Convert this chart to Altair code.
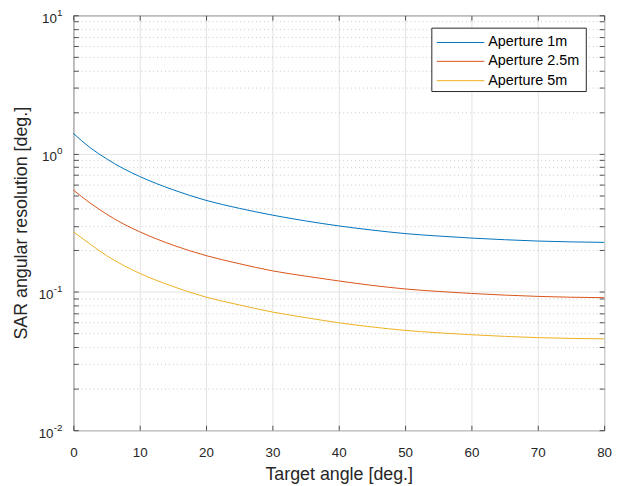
import altair as alt
import pandas as pd

# ---- data ----
angles = [0, 2.5, 5, 7.5, 10, 15, 20, 25, 30, 35, 40, 45, 50, 55, 60, 65, 70, 75, 80]
res_1m = [1.40, 1.106, 0.917, 0.781, 0.683, 0.548, 0.459, 0.402, 0.359, 0.326, 0.300,
          0.280, 0.264, 0.2535, 0.245, 0.2384, 0.2331, 0.2299, 0.228]
res_2_5m = [0.545, 0.440, 0.365, 0.311, 0.272, 0.218, 0.183, 0.160, 0.142, 0.130, 0.120,
            0.1115, 0.105, 0.1008, 0.0974, 0.0948, 0.0928, 0.0915, 0.0908]
res_5m = [0.272, 0.222, 0.183, 0.156, 0.1362, 0.1095, 0.0917, 0.0805, 0.0715, 0.0652, 0.0598,
          0.0558, 0.0527, 0.0506, 0.0490, 0.0477, 0.0467, 0.0461, 0.0458]
series_names = ["Aperture 1m", "Aperture 2.5m", "Aperture 5m"]
series_colors = ["#0072BD", "#D95319", "#EDB120"]

x_ticks = [0, 10, 20, 30, 40, 50, 60, 70, 80]
y_major = [0.01, 0.1, 1, 10]
y_exponents = ["-2", "-1", "0", "1"]
y_minor = [0.02, 0.03, 0.04, 0.05, 0.06, 0.07, 0.08, 0.09,
           0.2, 0.3, 0.4, 0.5, 0.6, 0.7, 0.8, 0.9,
           2, 3, 4, 5, 6, 7, 8, 9]

rows = []
for name, vals in zip(series_names, [res_1m, res_2_5m, res_5m]):
    for a, v in zip(angles, vals):
        rows.append({"angle": a, "res": v, "series": name})
df = pd.DataFrame(rows)
df_lab = pd.DataFrame({"val": y_major, "exp": y_exponents})

FONT = "Liberation Sans, Arial, Helvetica, sans-serif"
INK = "#262626"

y_values = sorted(y_major + y_minor)
is_minor = "abs(log(datum.value)/LN10 - round(log(datum.value)/LN10)) > 0.001"

x_scale = alt.Scale(domain=[0, 80], nice=False, zero=False)
y_scale = alt.Scale(type="log", domain=[0.01, 10], nice=False)

base = alt.Chart(df)

lines = base.mark_line(strokeWidth=1, interpolate="monotone").encode(
    x=alt.X("angle:Q", scale=x_scale, axis=alt.Axis(
        orient="bottom", values=x_ticks, format="d", title="Target angle [deg.]",
        grid=True, gridColor="#e3e3e3", gridWidth=1, domain=False,
        tickSize=5, offset=-5, labelPadding=16, labelFontSize=13.5, labelFlush=False,
        titleFontSize=18, titlePadding=6)),
    y=alt.Y("res:Q", scale=y_scale, axis=alt.Axis(
        orient="left", values=y_values, labels=False,
        title="SAR angular resolution [deg.]",
        grid=True,
        gridColor={"condition": {"test": is_minor, "value": "#c8c8c8"}, "value": "#e3e3e3"},
        gridDash={"condition": {"test": is_minor, "value": [1, 3]}, "value": []},
        domain=False, tickSize=5, offset=-5, titleFontSize=18, titlePadding=43)),
    color=alt.Color("series:N", scale=alt.Scale(domain=series_names, range=series_colors),
                    legend=None),
)

mirror = base.mark_line(strokeOpacity=0).encode(
    x=alt.X("angle:Q", scale=x_scale, axis=alt.Axis(
        orient="top", values=x_ticks, labels=False, title="", grid=False, domain=False,
        tickSize=5, offset=-5)),
    y=alt.Y("res:Q", scale=y_scale, axis=alt.Axis(
        orient="right", values=y_values, labels=False, title="", grid=False, domain=False,
        tickSize=5, offset=-5)),
    detail="series:N",
)

# y tick labels as 10 with a raised exponent
lab = alt.Chart(df_lab)
EXP_RIGHT = -11
base_pos = lab.transform_filter("length(datum.exp) == 1").mark_text(
    align="right", baseline="middle", fontSize=13.5, font=FONT, color=INK, dy=3.5
).encode(x=alt.value(EXP_RIGHT - 5.6),
         y=alt.Y("val:Q", scale=y_scale, axis=None), text=alt.value("10"))
base_neg = lab.transform_filter("length(datum.exp) == 2").mark_text(
    align="right", baseline="middle", fontSize=13.5, font=FONT, color=INK, dy=3.5
).encode(x=alt.value(EXP_RIGHT - 9.0),
         y=alt.Y("val:Q", scale=y_scale, axis=None), text=alt.value("10"))
exps = lab.mark_text(
    align="right", baseline="middle", fontSize=10, font=FONT, color=INK, dy=-2.5
).encode(x=alt.value(EXP_RIGHT),
         y=alt.Y("val:Q", scale=y_scale, axis=None), text="exp:N")

one = pd.DataFrame({"k": [0]})
legend_layers = [
    alt.Chart(one).mark_rect(fill="white", stroke=INK, strokeWidth=1).encode(
        x=alt.value(362), x2=alt.value(518), y=alt.value(13), y2=alt.value(77))
]
row_y = [27.5, 46.5, 66]
for name, col, yy in zip(series_names, series_colors, row_y):
    legend_layers.append(
        alt.Chart(one).mark_rule(color=col, strokeWidth=1).encode(
            x=alt.value(367), x2=alt.value(415), y=alt.value(yy)))
    legend_layers.append(
        alt.Chart(one).mark_text(align="left", baseline="middle", fontSize=14.5,
                                 font=FONT, color="black").encode(
            x=alt.value(419), y=alt.value(yy), text=alt.value(name)))

chart = alt.layer(lines, mirror, base_pos, base_neg, exps, *legend_layers).resolve_axis(
    x="independent", y="independent"
).properties(
    width=536, height=419,
    padding={"left": 66, "top": 5, "right": 12, "bottom": 54},
    autosize=alt.AutoSizeParams(type="none"),
).configure_view(
    stroke=INK, strokeWidth=1
).configure_axis(
    labelFont=FONT, titleFont=FONT, labelColor=INK, titleColor=INK,
    tickColor=INK, tickWidth=0.8, titleFontWeight="normal",
)

chart.save("out.html", embed_options={"renderer": "svg", "actions": False})
